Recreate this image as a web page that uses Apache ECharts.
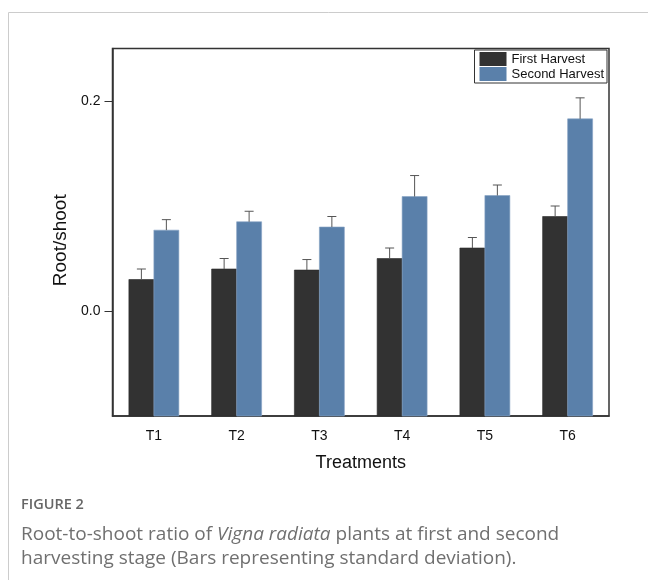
<!DOCTYPE html>
<html>
<head>
<meta charset="utf-8">
<script src="https://cdn.jsdelivr.net/npm/echarts@6/dist/echarts.min.js"></script>
<style>
html,body{margin:0;padding:0;background:#fff;}
#chart{width:648px;height:580px;}
</style>
</head>
<body>
<div id="chart"></div>
<script>
var categories = ['T1', 'T2', 'T3', 'T4', 'T5', 'T6'];
var firstHarvest = [0.030, 0.040, 0.039, 0.050, 0.060, 0.090];
var firstSD = [0.010, 0.010, 0.010, 0.010, 0.010, 0.010];
var secondHarvest = [0.077, 0.085, 0.080, 0.109, 0.110, 0.183];
var secondSD = [0.010, 0.010, 0.010, 0.020, 0.010, 0.020];
var yTickValues = [0, 0.2];
var yMin = -0.1, yMax = 0.25;

var chart = echarts.init(document.getElementById('chart'));

function seriesData(vals, sds) {
  return vals.map(function (v, i) { return [i, v, sds[i]]; });
}
// side: -1 = left bar of the pair, +1 = right bar
function barRender(side, fill, border) {
  return function (params, api) {
    var i = api.value(0), v = api.value(1), sd = api.value(2);
    var band = api.size([1, 0])[0];
    var barW = band * 0.302;
    var topPt = api.coord([i, v]);
    var basePt = api.coord([i, yMin]);
    var errPt = api.coord([i, v + sd]);
    var x0 = side < 0 ? topPt[0] - barW : topPt[0];
    var xc = x0 + barW / 2;
    var cap = 4.5;
    var eStyle = { stroke: '#555', lineWidth: 1, fill: null };
    return {
      type: 'group',
      children: [
        { type: 'rect', shape: { x: x0, y: topPt[1], width: barW, height: basePt[1] - topPt[1] },
          style: { fill: fill, stroke: border, lineWidth: 0.6 } },
        { type: 'line', shape: { x1: xc, y1: topPt[1], x2: xc, y2: errPt[1] }, style: eStyle },
        { type: 'line', shape: { x1: xc - cap, y1: errPt[1], x2: xc + cap, y2: errPt[1] }, style: eStyle }
      ]
    };
  };
}

var darkColor = '#323232', blueColor = '#5a80aa';

var option = {
  animation: false,
  textStyle: { fontFamily: 'Liberation Sans, Arial, sans-serif' },
  grid: {
    left: 112.5, right: 39, top: 48.5, bottom: 164,
    show: true, borderColor: '#333', borderWidth: 1.5, backgroundColor: 'transparent'
  },
  legend: {
    data: ['First Harvest', 'Second Harvest'],
    orient: 'vertical',
    right: 41, top: 50,
    itemWidth: 27, itemHeight: 14, itemGap: 1,
    borderColor: '#333', borderWidth: 1,
    padding: [2, 3, 2, 5],
    icon: 'rect',
    textStyle: { fontSize: 13, color: '#111' }
  },
  xAxis: {
    type: 'category',
    data: categories,
    name: 'Treatments',
    nameLocation: 'middle',
    nameGap: 38,
    nameTextStyle: { fontSize: 18, color: '#111' },
    axisLine: { onZero: false, lineStyle: { color: '#333', width: 1.5 } },
    axisTick: { alignWithLabel: true, length: 6, lineStyle: { color: '#333' } },
    axisLabel: { fontSize: 14, color: '#111', margin: 13 },
    splitLine: { show: false }
  },
  yAxis: {
    type: 'value',
    min: yMin, max: yMax, interval: 0.05,
    name: 'Root/shoot',
    nameLocation: 'middle',
    nameGap: 40,
    nameTextStyle: { fontSize: 19, color: '#111', padding: [0, 16, 0, 0] },
    axisLine: { show: true, lineStyle: { color: '#333', width: 1.5 } },
    axisTick: { show: true, length: 8, customValues: yTickValues, lineStyle: { color: '#333' } },
    axisLabel: {
      fontSize: 14, color: '#111', margin: 12, customValues: yTickValues,
      formatter: function (v) { return v.toFixed(1); }
    },
    splitLine: { show: false }
  },
  series: [
    {
      name: 'First Harvest', type: 'custom',
      renderItem: barRender(-1, darkColor, '#2a2a2a'),
      data: seriesData(firstHarvest, firstSD),
      encode: { x: 0, y: 1 },
      itemStyle: { color: darkColor }
    },
    {
      name: 'Second Harvest', type: 'custom',
      renderItem: barRender(1, blueColor, '#86a3c4'),
      data: seriesData(secondHarvest, secondSD),
      encode: { x: 0, y: 1 },
      itemStyle: { color: blueColor }
    }
  ],
  graphic: [
    { type: 'line', shape: { x1: 8.5, y1: 12.5, x2: 648, y2: 12.5 }, style: { stroke: '#cccccc', lineWidth: 1 } },
    { type: 'line', shape: { x1: 8.5, y1: 12.5, x2: 8.5, y2: 580 }, style: { stroke: '#cccccc', lineWidth: 1 } },
    {
      type: 'text', left: 21, top: 497,
      style: { text: 'FIGURE 2', fontSize: 14.5, fontWeight: 600, fill: '#666', fontFamily: 'Open Sans, sans-serif' }
    },
    {
      type: 'text', left: 21, top: 523,
      style: {
        text: 'Root-to-shoot ratio of {i|Vigna radiata} plants at first and second\nharvesting stage (Bars representing standard deviation).',
        fontSize: 19, lineHeight: 24, fill: '#707070', fontFamily: 'Open Sans, sans-serif',
        rich: { i: { fontStyle: 'italic', fontSize: 19, fill: '#707070', fontFamily: 'Open Sans, sans-serif' } }
      }
    }
  ]
};
chart.setOption(option);
</script>
</body>
</html>
